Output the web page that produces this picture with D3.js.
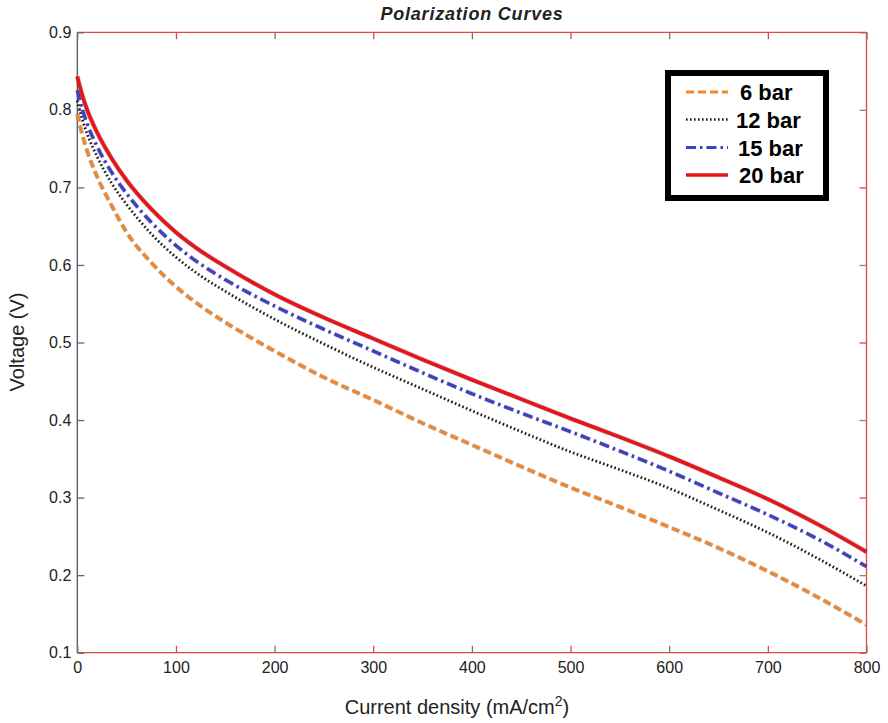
<!DOCTYPE html>
<html>
<head>
<meta charset="utf-8">
<script src="https://cdn.jsdelivr.net/npm/d3@7"></script>
<style>
  html, body { margin: 0; padding: 0; background: #fff; }
  svg { display: block; font-family: "Liberation Sans", Arial, sans-serif; }
</style>
</head>
<body>
<svg id="chart" width="888" height="723"></svg>
<script>
// ---- data ----
const currentDensity = [0, 5, 10, 20, 35, 50, 75, 100, 125, 150, 200, 250, 300, 350, 400, 450, 500, 550, 600, 650, 700, 750, 800];
const bar6  = [0.795, 0.768, 0.747, 0.714, 0.676, 0.642, 0.603, 0.572, 0.547, 0.526, 0.489, 0.455, 0.426, 0.396, 0.368, 0.340, 0.313, 0.288, 0.262, 0.235, 0.205, 0.172, 0.136];
const bar12 = [0.812, 0.788, 0.769, 0.740, 0.705, 0.678, 0.640, 0.610, 0.586, 0.566, 0.530, 0.498, 0.468, 0.440, 0.412, 0.385, 0.359, 0.336, 0.312, 0.284, 0.255, 0.222, 0.186];
const bar15 = [0.825, 0.801, 0.782, 0.753, 0.719, 0.692, 0.655, 0.625, 0.601, 0.581, 0.547, 0.517, 0.489, 0.461, 0.434, 0.409, 0.385, 0.360, 0.334, 0.306, 0.278, 0.247, 0.211];
const bar20 = [0.843, 0.819, 0.800, 0.771, 0.737, 0.709, 0.672, 0.642, 0.618, 0.598, 0.562, 0.532, 0.505, 0.478, 0.452, 0.427, 0.402, 0.378, 0.353, 0.326, 0.298, 0.266, 0.230];
const seriesNames = ["6 bar", "12 bar", "15 bar", "20 bar"];
const xTicks = [0, 100, 200, 300, 400, 500, 600, 700, 800];
const yTicks = [0.1, 0.2, 0.3, 0.4, 0.5, 0.6, 0.7, 0.8, 0.9];

// ---- layout ----
const L = 77.3, R = 866.5, T = 32.3, B = 652.7;
const svg = d3.select("#chart");
const x = d3.scaleLinear().domain([0, 800]).range([L, R]);
const y = d3.scaleLinear().domain([0.1, 0.9]).range([B, T]);

const styles = [
  { color: "#f0872e", width: 3.2, dash: "8,4" },
  { color: "#1a1a1a", width: 2.4, dash: "1.6,2.4" },
  { color: "#3b40c4", width: 3.2, dash: "10,4,2.5,4" },
  { color: "#e8141c", width: 3.6, dash: null }
];
const seriesData = [bar6, bar12, bar15, bar20];

// axes box
const red = "#e0474c";
svg.append("line").attr("x1", L).attr("x2", R).attr("y1", T).attr("y2", T).attr("stroke", red).attr("stroke-width", 1.3);
svg.append("line").attr("x1", R).attr("x2", R).attr("y1", T).attr("y2", B).attr("stroke", red).attr("stroke-width", 1.3);
svg.append("line").attr("x1", L).attr("x2", R).attr("y1", B).attr("y2", B).attr("stroke", red).attr("stroke-width", 1.3);
svg.append("line").attr("x1", L).attr("x2", L).attr("y1", T).attr("y2", B).attr("stroke", "#555").attr("stroke-width", 1.3);

// bottom axis
const xAxis = svg.append("g").attr("transform", `translate(0,${B})`)
  .call(d3.axisBottom(x).tickValues(xTicks).tickSize(-7).tickPadding(9).tickFormat(d3.format("d")));
xAxis.select(".domain").remove();
xAxis.selectAll(".tick line").attr("stroke", (d, i) => i % 2 ? red : "#777").attr("stroke-width", 1.3);
xAxis.selectAll(".tick text").attr("font-size", 16).attr("fill", "#222").attr("font-family", "Liberation Sans, Arial, sans-serif");

// top axis ticks
const xTop = svg.append("g").attr("transform", `translate(0,${T})`)
  .call(d3.axisTop(x).tickValues(xTicks).tickSize(-7).tickFormat(""));
xTop.select(".domain").remove();
xTop.selectAll(".tick line").attr("stroke", (d, i) => i % 2 ? red : "#777").attr("stroke-width", 1.3);

// left axis
const yAxis = svg.append("g").attr("transform", `translate(${L},0)`)
  .call(d3.axisLeft(y).tickValues(yTicks).tickSize(-7).tickPadding(6).tickFormat(d3.format(".1f")));
yAxis.select(".domain").remove();
yAxis.selectAll(".tick line").attr("stroke", "#666").attr("stroke-width", 1.3);
yAxis.selectAll(".tick text").attr("font-size", 16).attr("fill", "#222").attr("font-family", "Liberation Sans, Arial, sans-serif");

// right axis ticks
const yRight = svg.append("g").attr("transform", `translate(${R},0)`)
  .call(d3.axisRight(y).tickValues(yTicks).tickSize(-7).tickFormat(""));
yRight.select(".domain").remove();
yRight.selectAll(".tick line").attr("stroke", (d, i) => i % 2 ? "#888" : red).attr("stroke-width", 1.3);

// lines
const line = d3.line().x(d => x(d[0])).y(d => y(d[1])).curve(d3.curveMonotoneX);
const g = svg.append("g");
seriesData.forEach((vals, k) => {
  const pts = currentDensity.map((c, i) => [c, vals[i]]);
  const s = styles[k];
  g.append("path").datum(pts).attr("d", line).attr("fill", "none")
    .attr("stroke", "#000").attr("stroke-opacity", 0.25)
    .attr("stroke-width", s.width + 1.2)
    .attr("stroke-dasharray", s.dash);
  g.append("path").datum(pts).attr("d", line).attr("fill", "none")
    .attr("stroke", s.color).attr("stroke-width", s.width)
    .attr("stroke-dasharray", s.dash);
});

// title and labels
svg.append("text").attr("x", 472).attr("y", 20).attr("text-anchor", "middle")
  .attr("font-size", 18).attr("font-weight", "bold").attr("font-style", "italic").attr("fill", "#222")
  .attr("letter-spacing", 0.8)
  .text("Polarization Curves");
svg.append("text").attr("transform", `translate(24,342) rotate(-90)`).attr("text-anchor", "middle")
  .attr("font-size", 20).attr("fill", "#222").text("Voltage (V)");
const xl = svg.append("text").attr("x", 457).attr("y", 714).attr("text-anchor", "middle")
  .attr("font-size", 20).attr("fill", "#222");
xl.append("tspan").text("Current density (mA/cm");
xl.append("tspan").attr("dy", -8).attr("font-size", 14).text("2");
xl.append("tspan").attr("dy", 8).text(")");

// legend
const lg = svg.append("g");
lg.append("rect").attr("x", 668).attr("y", 73).attr("width", 158).attr("height", 125)
  .attr("fill", "#fff").attr("stroke", "#000").attr("stroke-width", 6);
const legY = [92, 119.5, 147.5, 175];
const legTextX = [740, 736, 738, 739];
seriesNames.forEach((name, k) => {
  const s = styles[k];
  lg.append("line").attr("x1", 686).attr("x2", 728).attr("y1", legY[k]).attr("y2", legY[k])
    .attr("stroke", s.color).attr("stroke-width", s.width).attr("stroke-dasharray", s.dash);
  lg.append("text").attr("x", legTextX[k]).attr("y", legY[k] + 8)
    .attr("font-size", 22).attr("font-weight", "bold").attr("fill", "#000").text(name);
});
</script>
</body>
</html>
